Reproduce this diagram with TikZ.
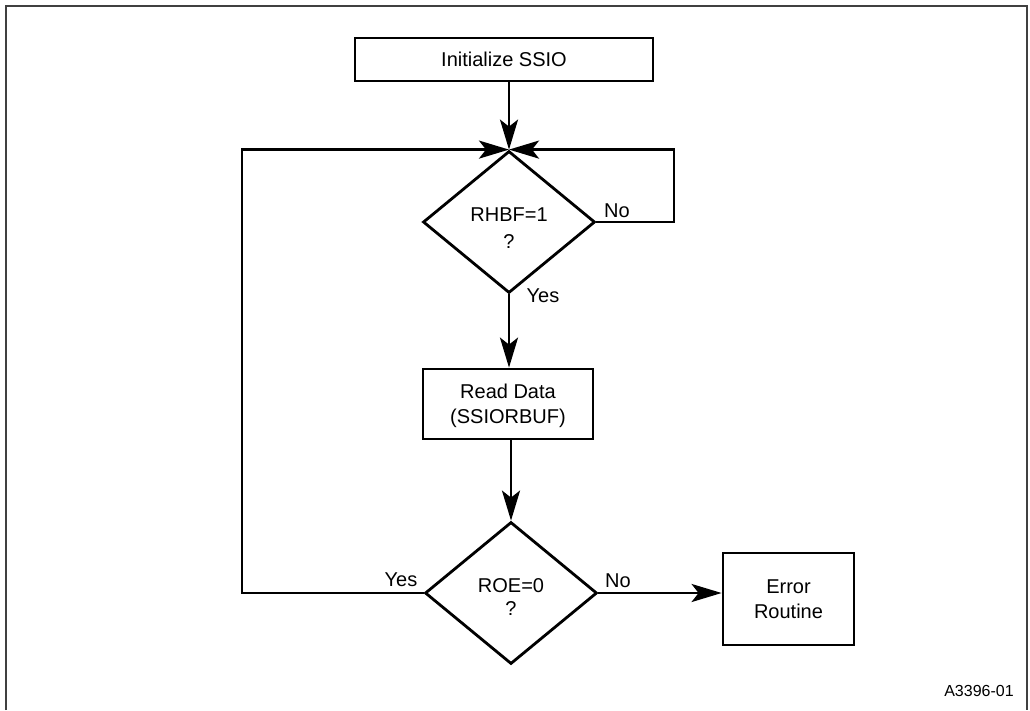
\documentclass[tikz,border=0pt]{standalone}
\usepackage{fontspec}
\setmainfont{Liberation Sans}
\usetikzlibrary{shapes.geometric,arrows.meta}
\begin{document}
\begin{tikzpicture}[x=1pt,y=-1pt,
  every node/.style={font=\fontsize{20}{24.5}\selectfont, text=black},
  boxnode/.style={draw, line width=2.8pt, rectangle, align=center, inner sep=0pt},
  decision/.style={draw, line width=2.8pt, diamond, inner sep=0pt, minimum width=172pt, minimum height=142pt},
  dtext/.style={align=center, inner sep=0pt},
  flow/.style={line width=2.8pt, -{Stealth[length=30pt,width=18pt,inset=7pt]}},
  lbl/.style={inner sep=0pt}
]
\useasboundingbox (0,0) rectangle (1030,710);
\draw[line width=2pt, black!75] (6,710) -- (6,6) -- (1027,6) -- (1027,710);

\node[boxnode, minimum width=298pt, minimum height=43pt] (init) at (504,59.5) {Initialize SSIO};
\node[decision] (d1) at (509,222) {};
\node[dtext] (d1t) at (509,228) {RHBF=1\\[2pt]?};
\node[boxnode, minimum width=170pt, minimum height=70pt] (read) at (508,404) {\rule{0pt}{18pt}Read Data\\(SSIORBUF)};
\node[decision] (d2) at (511,593) {};
\node[dtext] (d2t) at (511,597) {ROE=0\\[-1pt]?};
\node[boxnode, minimum width=131pt, minimum height=92pt] (err) at (788.5,599) {Error\\Routine};

\coordinate (rloop) at (674,222);
\coordinate (lloop) at (242,593);

\draw[flow] (init.south -| d1.north) -- (d1.north);
\draw[flow] (d1.east) -- (rloop) -- (rloop |- d1.north) -- (d1.north);
\draw[flow] (d1.south) -- (d1.south |- read.north);
\draw[flow] (read.south -| d2.north) -- (d2.north);
\draw[flow] (d2.west) -- (lloop) -- (lloop |- d1.north) -- (d1.north);
\draw[flow] (d2.east) -- (err.west |- d2.east);

\node[lbl] (no1) at (617,211) {No};
\node[lbl] (yes1) at (543,296) {Yes};
\node[lbl] (yes2) at (401,580) {Yes};
\node[lbl] (no2) at (618,581) {No};
\node[lbl, font=\fontsize{16}{19}\selectfont] (tag) at (979,691) {A3396-01};
\end{tikzpicture}
\end{document}
